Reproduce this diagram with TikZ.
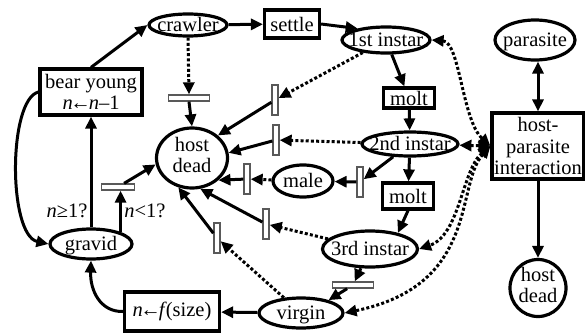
\documentclass[tikz,border=0pt]{standalone}
\usepackage{fontspec}
\setmainfont{Liberation Serif}
\usetikzlibrary{shapes.geometric,arrows.meta}
\newcommand{\lbl}[1]{\raisebox{-0.3em}[0pt][0pt]{\makebox[0pt]{#1}}}
\newcommand{\lbltwo}[2]{\raisebox{-0.25em}[0pt][0pt]{\makebox[0pt]{\begin{tabular}{@{}c@{}}#1\\#2\end{tabular}}}}
\newcommand{\getsarr}{\kern-2.5pt←\kern-2pt}
\tikzset{
  ell/.style={ellipse, draw, line width=3.2pt, fill=white, inner sep=0pt},
  box/.style={rectangle, draw, line width=3.2pt, fill=white, inner sep=0pt, align=center},
  vbar/.style={rectangle, draw=black!65, fill=white, line width=1.3pt, minimum width=6pt, minimum height=30pt, inner sep=0pt},
  hbar/.style={rectangle, draw=black!65, fill=white, line width=1.3pt, minimum width=41pt, minimum height=6pt, inner sep=0pt},
  tip/.tip={Triangle[length=12pt,width=11pt]},
  arr/.style={line width=3pt, -tip},
  darr/.style={arr, dash pattern=on 3pt off 2.2pt},
  ddarr/.style={line width=3pt, dash pattern=on 3pt off 2.2pt, tip-tip},
  biarr/.style={line width=3pt, tip-tip},
  lab/.style={inner sep=0pt}
}
\begin{document}
\begin{tikzpicture}[x=1pt,y=-1pt, font=\fontsize{20.5}{21.5}\selectfont]
\useasboundingbox (0,0) rectangle (585,332);
% main nodes
\node[ell, minimum width=78pt, minimum height=22pt] (cr) at (188,25) {\lbl{crawler}};
\node[box, minimum width=55pt, minimum height=28pt] (se) at (292,24) {settle};
\node[ell, minimum width=88pt, minimum height=26pt] (i1) at (386,40) {\lbl{1st instar}};
\node[box, minimum width=51pt, minimum height=20pt] (m1) at (409,98) {molt};
\node[ell, minimum width=96pt, minimum height=24pt] (i2) at (410,144) {\lbl{2nd instar}};
\node[box, minimum width=51pt, minimum height=26pt] (m2) at (408,196) {molt};
\node[ell, minimum width=95pt, minimum height=36pt] (i3) at (370,249) {\lbl{3rd instar}};
\node[ell, minimum width=84pt, minimum height=30pt] (vi) at (301,313) {\lbl{virgin}};
\node[box, minimum width=95pt, minimum height=39pt] (nf) at (172,311.5) {\textit{n}\getsarr\textit{f}\kern-1pt(size)};
\node[ell, minimum width=82pt, minimum height=30pt] (gr) at (91,244) {\lbl{gravid}};
\node[box, minimum width=102pt, minimum height=46pt] (by) at (91,92) {bear young\\\textit{n}\getsarr\textit{n}–1};
\node[ell, minimum width=71pt, minimum height=60pt] (hd) at (192,158) {\lbltwo{host}{dead}};
\node[ell, minimum width=60pt, minimum height=32pt] (ma) at (303,181) {\lbl{male}};
\node[ell, minimum width=80pt, minimum height=40pt] (pa) at (535,40) {\lbl{parasite}};
\node[box, minimum width=92pt, minimum height=66pt] (hp) at (538,146) {host-\\parasite\\interaction};
\node[ell, minimum width=56pt, minimum height=57pt] (hd2) at (538,288) {\lbltwo{host}{dead}};
% bars
\node[hbar] (b1) at (189,98) {};
\node[vbar] (b2) at (275,100) {};
\node[vbar] (b3) at (276,140) {};
\node[vbar] (b4) at (247,179) {};
\node[vbar] (b5) at (360,182) {};
\node[vbar] (b6) at (266,224) {};
\node[vbar] (b7) at (217,238) {};
\node[hbar, minimum width=33pt] (b8) at (118,187) {};
\node[hbar] (b9) at (353,285) {};
% labels
\node[lab] (l1) at (67,211) {\textit{n}≥1?};
\node[lab] (l2) at (145,211) {\textit{n}<1?};
% life cycle
\draw[arr] (by.north) -- (cr.west);
\draw[arr] (cr) -- (se);
\draw[arr] (se.east) -- (i1.158);
\draw[arr] (i1) -- (m1);
\draw[arr] (m1) -- (i2);
\draw[arr] (i2) -- (m2);
\draw[arr] (m2.south) -- (i3.30);
\draw[arr] (i3) -- (b9);
\draw[arr] (b9) -- (vi.25);
\draw[arr] (vi) -- (nf);
\draw[arr] (nf.west) .. controls (100,312) and (90,290) .. (gr.south);
\draw[arr] (gr.north) -- (by.south);
\draw[arr] (gr.22) -- (gr.22 |- b8.south);
\draw[arr] (by.west) .. controls (8,100) and (8,235) .. (gr.west);
\draw[arr] (i2) -- (b5);
\draw[arr] (b5) -- (ma);
% deaths
\draw[darr] (cr.south) -- (b1.north);
\draw[arr] (b1.south) -- (hd.north);
\draw[darr] (i1) -- (b2);
\draw[arr] (b2) -- (hd.41);
\draw[darr] (i2) -- (b3);
\draw[arr] (b3) -- (hd.8);
\draw[darr] (ma) -- (b4);
\draw[arr] (b4) -- (hd.-40);
\draw[darr] (i3) -- (b6);
\draw[arr] (b6) -- (hd.-75);
\draw[darr] (vi) -- (b7);
\draw[arr] (b7) -- (hd.-115);
\draw[arr] (b8) -- (hd.190);
% host-parasite
\draw[biarr] (hp.north) -- (hp.north |- pa.south);
\draw[arr] (hp) -- (hd2);
\draw[ddarr] (i1.east) .. controls (460,42) and (462,120) .. (hp.west);
\draw[ddarr] (i2) -- (hp.west);
\draw[ddarr] (hp.west) .. controls (462,170) and (460,235) .. (i3.east);
\draw[ddarr] (hp.west) .. controls (455,185) and (480,285) .. (vi.east);
\end{tikzpicture}
\end{document}
